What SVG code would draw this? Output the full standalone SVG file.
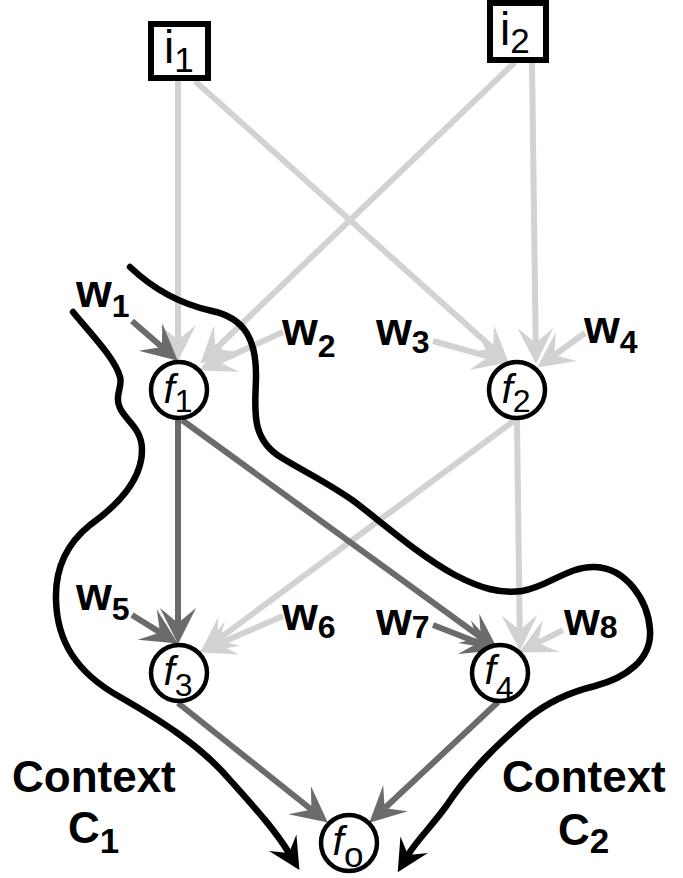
<svg xmlns="http://www.w3.org/2000/svg" width="683" height="878" viewBox="0 0 683 878">
<style>
.lt{stroke:#d2d2d2;stroke-width:6;fill:none;marker-end:url(#ahL)}
.dk{stroke:#6b6b6b;stroke-width:6;fill:none;marker-end:url(#ahD)}
.ctx{stroke:#000;stroke-width:6.5;fill:none;stroke-linecap:round;marker-end:url(#ahB)}
.node circle{fill:#fff;stroke:#000;stroke-width:4.5}
.box rect{fill:#fff;stroke:#000;stroke-width:6}
.ftxt{font-family:"Liberation Sans",Arial,sans-serif;font-size:41px;fill:#000}
.itxt{font-family:"Liberation Sans",Arial,sans-serif;font-size:46px;fill:#000}
.wtxt{font-family:"Liberation Sans",Arial,sans-serif;font-size:46px;font-weight:bold;fill:#000}
.ctxt{font-family:"Liberation Sans",Arial,sans-serif;font-size:44px;font-weight:bold;fill:#000}
</style>
<defs>
<marker id="ahL" markerUnits="userSpaceOnUse" orient="auto" refX="0" refY="0" markerWidth="40" markerHeight="40" overflow="visible"><path d="M21,0 L-15,-18 L0,0 L-15,18 Z" fill="#d2d2d2"/></marker>
<marker id="ahD" markerUnits="userSpaceOnUse" orient="auto" refX="0" refY="0" markerWidth="40" markerHeight="40" overflow="visible"><path d="M21,0 L-15,-18 L0,0 L-15,18 Z" fill="#6b6b6b"/></marker>
<marker id="ahB" markerUnits="userSpaceOnUse" orient="auto" refX="0" refY="0" markerWidth="40" markerHeight="40" overflow="visible"><path d="M20,0 L-12,-16 L0,0 L-12,16 Z" fill="#000"/></marker>
</defs>
<g id="connectors">
<line class="lt" x1="178" y1="81" x2="178" y2="340"/>
<line class="lt" x1="195" y1="81" x2="493.1" y2="348.6"/>
<line class="lt" x1="515" y1="62" x2="215.4" y2="349.2"/>
<line class="lt" x1="532" y1="62" x2="535.7" y2="343"/>
<line class="lt" x1="515" y1="420" x2="217.1" y2="640.1"/>
<line class="lt" x1="517" y1="420" x2="519.7" y2="630"/>
<line class="lt" x1="283" y1="332" x2="218.2" y2="361.7"/>
<line class="lt" x1="433" y1="341" x2="488.7" y2="356.6"/>
<line class="lt" x1="585" y1="333" x2="554.2" y2="355.3"/>
<line class="lt" x1="283" y1="616" x2="218.3" y2="644"/>
<line class="lt" x1="563" y1="630" x2="537.8" y2="642.9"/>
<line class="dk" x1="178" y1="420" x2="178" y2="623"/>
<line class="dk" x1="182" y1="420" x2="480.8" y2="637.2"/>
<line class="dk" x1="178" y1="703" x2="311.4" y2="809.5"/>
<line class="dk" x1="498" y1="702" x2="384.6" y2="808.3"/>
<line class="dk" x1="132" y1="321" x2="161.9" y2="346.9"/>
<line class="dk" x1="132" y1="615" x2="160" y2="632.4"/>
<line class="dk" x1="433" y1="625" x2="478.4" y2="642.7"/>
<path id="contextC1" class="ctx" d="M73,312 C90,333 115,358 120,377 C123,386 114,396 120,408 C125,420 142,428 142,450 C142,480 118,505 90,525 C65,545 55,570 56,600 C57,640 75,672 120,697 C160,720 200,745 230,780 C255,808 275,830 289,853"/>
<path id="contextC2" class="ctx" d="M130,267 C152,288 180,304 212,311 C245,318 256,340 256,375 C256,405 248,438 282,458 C305,472 330,484 355,502 C385,525 420,556 455,575 C480,588 500,594 522,591 C548,587 568,566 595,567 C626,568 648,600 650,630 C652,660 625,678 595,686 C570,692 548,702 528,718 C500,742 470,770 447,805 C432,826 417,840 408,855"/>
</g>
<g id="i1" class="box"><rect x="151" y="24" width="57" height="54"/><text class="itxt" x="164" y="63">i<tspan font-size="35" dy="9">1</tspan></text></g>
<g id="i2" class="box"><rect x="490" y="3" width="56" height="57"/><text class="itxt" x="500" y="45">i<tspan font-size="35" dy="8">2</tspan></text></g>
<g id="f1" class="node"><circle cx="179" cy="390" r="28"/><text class="ftxt" x="178" y="403" text-anchor="middle"><tspan font-style="italic">f</tspan><tspan font-size="32" dy="9">1</tspan></text></g>
<g id="f2" class="node"><circle cx="517" cy="390" r="28"/><text class="ftxt" x="516" y="403" text-anchor="middle"><tspan font-style="italic">f</tspan><tspan font-size="32" dy="9">2</tspan></text></g>
<g id="f3" class="node"><circle cx="179" cy="673" r="28"/><text class="ftxt" x="178" y="685" text-anchor="middle"><tspan font-style="italic">f</tspan><tspan font-size="32" dy="11">3</tspan></text></g>
<g id="f4" class="node"><circle cx="500" cy="673" r="28"/><text class="ftxt" x="499" y="684" text-anchor="middle"><tspan font-style="italic">f</tspan><tspan font-size="32" dy="15">4</tspan></text></g>
<g id="fo" class="node"><circle cx="349" cy="843" r="28"/><text class="ftxt" x="348" y="855" text-anchor="middle"><tspan font-style="italic">f</tspan><tspan font-size="35" dy="12">o</tspan></text></g>
<g id="weights">
<text class="wtxt" x="76" y="307">w<tspan font-size="32" dy="10">1</tspan></text>
<text class="wtxt" x="282" y="345">w<tspan font-size="32" dy="12">2</tspan></text>
<text class="wtxt" x="376" y="345">w<tspan font-size="32" dy="8">3</tspan></text>
<text class="wtxt" x="584" y="343">w<tspan font-size="32" dy="10">4</tspan></text>
<text class="wtxt" x="76" y="610">w<tspan font-size="32" dy="10">5</tspan></text>
<text class="wtxt" x="282" y="630">w<tspan font-size="32" dy="8">6</tspan></text>
<text class="wtxt" x="376" y="635">w<tspan font-size="32" dy="3">7</tspan></text>
<text class="wtxt" x="564" y="635">w<tspan font-size="32" dy="3">8</tspan></text>
</g>
<g id="labels">
<text class="ctxt" x="12" y="792">Context</text>
<text class="ctxt" x="68" y="843">C<tspan font-size="35" dy="10">1</tspan></text>
<text class="ctxt" x="502" y="792">Context</text>
<text class="ctxt" x="558" y="845">C<tspan font-size="35" dy="8">2</tspan></text>
</g>
</svg>
